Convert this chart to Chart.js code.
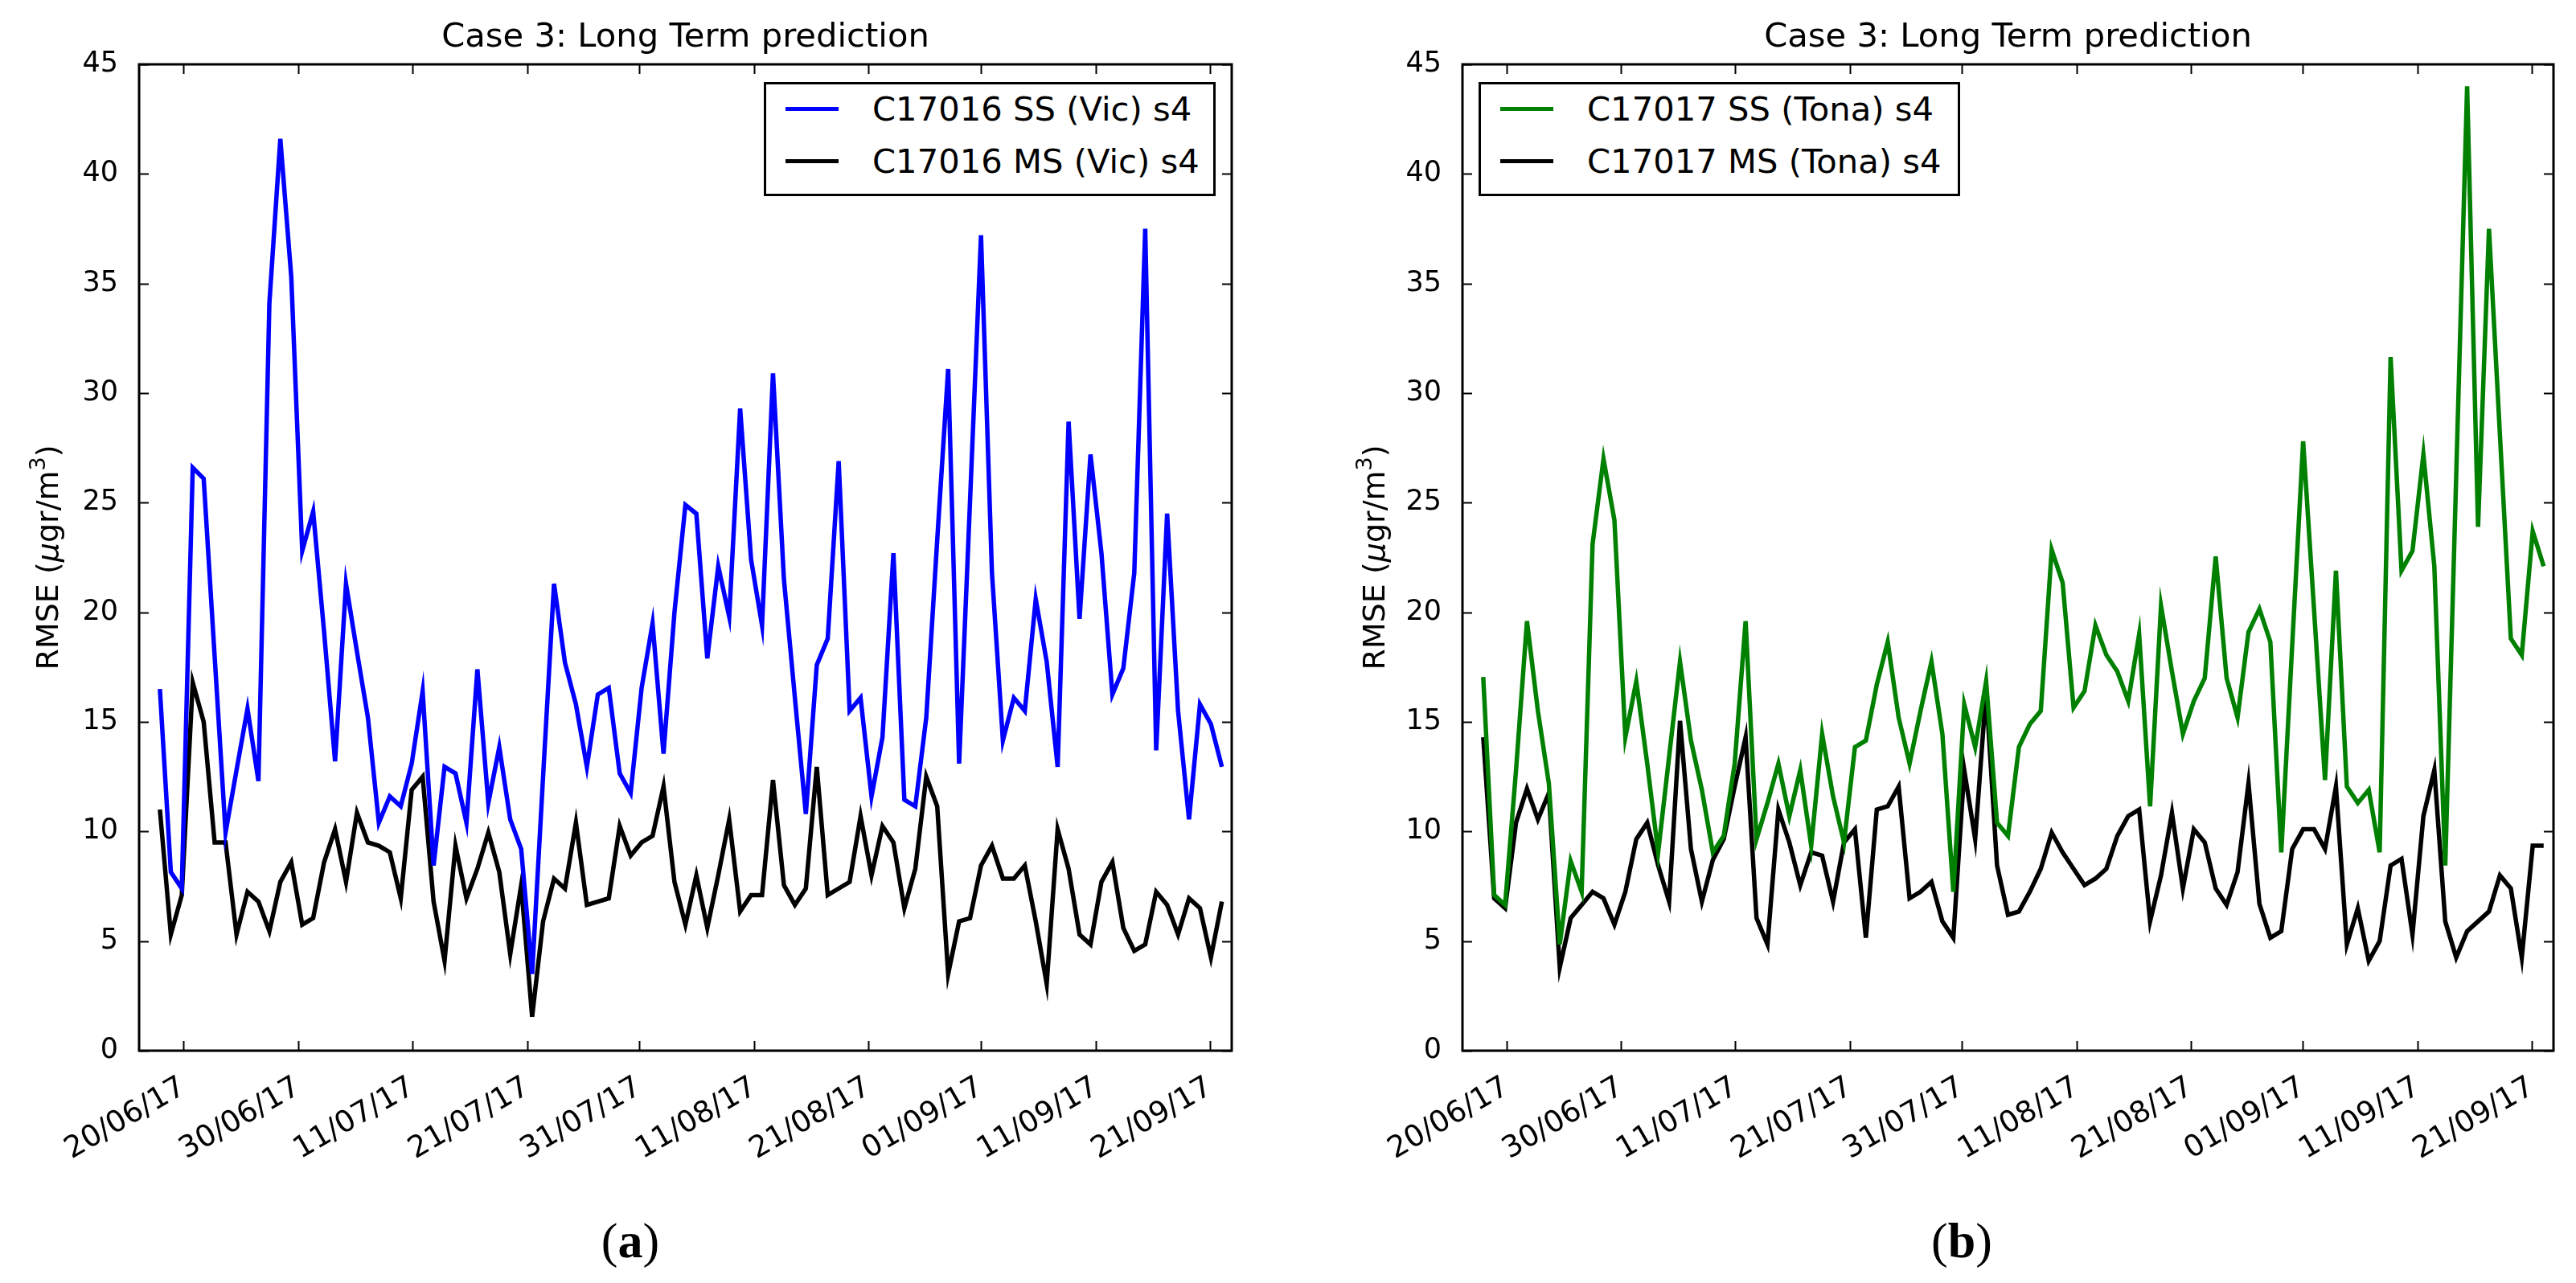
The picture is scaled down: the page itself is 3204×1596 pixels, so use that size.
<!DOCTYPE html>
<html>
<head>
<meta charset="utf-8">
<script src="https://cdn.jsdelivr.net/npm/chart.js@4.4.0/dist/chart.umd.min.js"></script>
<style>
  html, body { margin: 0; padding: 0; background: #fff; }
  #page { position: relative; width: 3204px; height: 1596px; overflow: hidden; font-family: "DejaVu Sans", sans-serif; color: #000; }
  canvas { position: absolute; top: 0; }
  .legend { position: absolute; top: 102px; height: 142px; border: 3px solid #000; background: #fff; box-sizing: border-box; }
  .legend .swatch { position: absolute; left: 24px; width: 66px; height: 5px; }
  .legend .txt { position: absolute; left: 132px; height: 50px; line-height: 50px; font-size: 41.7px; white-space: nowrap; }
  .caption { position: absolute; top: 1508px; height: 70px; line-height: 70px; font-family: "Liberation Serif", serif; font-size: 62px; transform: translateX(-50%); }
</style>
</head>
<body>
<div id="page">
  <canvas id="chartVic" width="1600" height="1596" style="left:0;width:1600px;height:1596px"></canvas>
  <canvas id="chartTona" width="1604" height="1596" style="left:1600px;width:1604px;height:1596px"></canvas>

  <div class="legend" style="left:950px;width:562px">
    <div class="swatch" style="top:28px;background:#0000ff"></div>
    <div class="txt" style="top:6px">C17016 SS (Vic) s4</div>
    <div class="swatch" style="top:93px;background:#000"></div>
    <div class="txt" style="top:71px">C17016 MS (Vic) s4</div>
  </div>
  <div class="legend" style="left:1839px;width:599px">
    <div class="swatch" style="top:28px;background:#008000"></div>
    <div class="txt" style="top:6px">C17017 SS (Tona) s4</div>
    <div class="swatch" style="top:93px;background:#000"></div>
    <div class="txt" style="top:71px">C17017 MS (Tona) s4</div>
  </div>

  <div class="caption" style="left:784px">(<b>a</b>)</div>
  <div class="caption" style="left:2440px">(<b>b</b>)</div>
</div>

<script>
// 数据（从图中读取，每天一个点）
const ssVic = [
  16.5, 8.15, 7.4, 26.6, 26.1, 18.0, 9.95, 12.8, 15.6, 12.3,
  34.1, 41.6, 35.3, 22.8, 24.6, 19.1, 13.2, 21.3, 18.2, 15.2,
  10.4, 11.6, 11.15, 13.1, 16.4, 8.45, 12.95, 12.65, 10.4, 17.4,
  11.3, 13.85, 10.55, 9.2, 3.5, 12.5, 21.3, 17.7, 15.8, 12.95,
  16.25, 16.55, 12.65, 11.75, 16.55, 19.5, 13.55, 20.0, 24.9, 24.5,
  17.9, 22.1, 19.8, 29.3, 22.4, 19.4, 30.9, 21.5, 16.1, 10.8,
  17.6, 18.8, 26.9, 15.5, 16.1, 11.6, 14.3, 22.7, 11.45, 11.15,
  15.2, 23.3, 31.1, 13.1, 25.1, 37.2, 21.8, 14.15, 16.1, 15.5,
  20.6, 17.75, 12.95, 28.7, 19.7, 27.2, 22.7, 16.25, 17.45, 21.8,
  37.5, 13.7, 24.5, 15.5, 10.55, 15.8, 14.9, 12.95
];
const msVic = [
  11.0, 5.3, 7.1, 16.8, 15.0, 9.5, 9.5, 5.3, 7.25, 6.8,
  5.45, 7.7, 8.6, 5.75, 6.05, 8.6, 10.1, 7.7, 10.85, 9.5,
  9.35, 9.05, 6.95, 11.9, 12.5, 6.8, 4.1, 9.35, 6.95, 8.3,
  9.95, 8.15, 4.4, 7.55, 1.55, 5.9, 7.85, 7.4, 10.4, 6.65,
  6.8, 6.95, 10.25, 8.9, 9.5, 9.8, 12.05, 7.7, 5.75, 8.0,
  5.6, 8.0, 10.55, 6.35, 7.1, 7.1, 12.35, 7.55, 6.65, 7.4,
  12.95, 7.1, 7.4, 7.7, 10.7, 8.0, 10.25, 9.5, 6.5, 8.3,
  12.5, 11.15, 3.5, 5.9, 6.05, 8.45, 9.35, 7.85, 7.85, 8.45,
  5.9, 3.05, 10.1, 8.3, 5.3, 4.85, 7.7, 8.6, 5.6, 4.55,
  4.85, 7.25, 6.65, 5.3, 6.95, 6.5, 4.25, 6.8
];
const ssTona = [
  17.05, 7.1, 6.65, 12.8, 19.6, 15.5, 12.2, 4.85, 8.65, 7.25,
  23.1, 27.0, 24.2, 14.3, 16.85, 13.1, 9.05, 13.4, 17.75, 14.15,
  11.9, 9.05, 9.8, 13.1, 19.6, 9.65, 11.3, 13.1, 10.7, 12.8,
  9.35, 14.45, 11.6, 9.5, 13.85, 14.15, 16.7, 18.65, 15.2, 13.1,
  15.5, 17.75, 14.45, 7.25, 15.8, 13.85, 16.85, 10.4, 9.8, 13.85,
  14.9, 15.5, 22.85, 21.35, 15.65, 16.4, 19.4, 18.05, 17.3, 15.95,
  19.0, 11.15, 20.3, 17.3, 14.45, 15.95, 17.0, 22.55, 17.0, 15.2,
  19.1, 20.15, 18.65, 9.05, 18.5, 27.8, 20.1, 12.35, 21.9, 12.05,
  11.3, 11.9, 9.05, 31.65, 21.9, 22.8, 27.2, 22.1, 8.45, 26.2,
  44.0, 23.9, 37.5, 28.1, 18.8, 18.05, 23.7, 22.1
];
const msTona = [
  14.3, 6.95, 6.5, 10.4, 11.95, 10.55, 11.75, 3.8, 6.05, 6.65,
  7.25, 6.95, 5.75, 7.25, 9.65, 10.4, 8.45, 6.8, 15.05, 9.2,
  6.8, 8.7, 9.65, 12.05, 14.3, 6.05, 4.85, 11.0, 9.5, 7.55,
  9.05, 8.9, 6.8, 9.5, 10.1, 5.15, 11.0, 11.15, 12.05, 6.95,
  7.25, 7.7, 5.9, 5.15, 12.8, 9.65, 16.4, 8.45, 6.2, 6.35,
  7.25, 8.3, 9.95, 9.05, 8.3, 7.55, 7.85, 8.3, 9.8, 10.7,
  11.0, 5.9, 8.0, 10.85, 7.4, 10.1, 9.5, 7.4, 6.65, 8.15,
  12.2, 6.7, 5.15, 5.45, 9.2, 10.1, 10.1, 9.2, 12.05, 4.85,
  6.5, 4.1, 5.0, 8.45, 8.75, 5.3, 10.7, 12.8, 5.9, 4.25,
  5.45, 5.9, 6.35, 8.0, 7.4, 4.25, 9.35, 9.35
];

// x 轴刻度（以样本序号为单位）和标签
const tickPos = [2.15, 12.62, 23.06, 33.55, 43.78, 54.3, 64.72, 74.98, 85.5, 95.93];
const tickLabels = ['20/06/17', '30/06/17', '11/07/17', '21/07/17', '31/07/17',
                    '11/08/17', '21/08/17', '01/09/17', '11/09/17', '21/09/17'];
const yTicks = [0, 5, 10, 15, 20, 25, 30, 35, 40, 45];

const FONT = 'DejaVu Sans';
const LABEL_SIZE = 38;

// 画边框和朝内的刻度线（matplotlib classic 风格）
const frameTicks = {
  id: 'frameTicks',
  afterDatasetsDraw(chart) {
    const { ctx, chartArea: a, scales } = chart;
    ctx.save();
    ctx.strokeStyle = '#000';
    ctx.lineWidth = 2;
    ctx.beginPath();
    yTicks.forEach(v => {
      const y = Math.round(scales.y.getPixelForValue(v)) + 0.5;
      ctx.moveTo(a.left, y); ctx.lineTo(a.left + 12, y);
      ctx.moveTo(a.right, y); ctx.lineTo(a.right - 12, y);
    });
    tickPos.forEach(v => {
      const x = Math.round(scales.x.getPixelForValue(v)) + 0.5;
      ctx.moveTo(x, a.bottom); ctx.lineTo(x, a.bottom - 12);
      ctx.moveTo(x, a.top); ctx.lineTo(x, a.top + 12);
    });
    ctx.stroke();
    ctx.lineWidth = 3;
    ctx.strokeRect(a.left, a.top, a.right - a.left, a.bottom - a.top);
    ctx.restore();
  }
};

// y 轴标题：RMSE (μgr/m³)，μ 斜体，3 上标
const yLabel = {
  id: 'yLabel',
  afterDraw(chart, args, opts) {
    const { ctx, chartArea: a } = chart;
    const s = LABEL_SIZE;
    const parts = [
      { t: 'RMSE (', f: `${s}px "${FONT}"`, dy: 0 },
      { t: 'μ', f: `oblique ${s}px "${FONT}"`, dy: 0 },
      { t: 'gr/m', f: `${s}px "${FONT}"`, dy: 0 },
      { t: '3', f: `${Math.round(s * 0.7)}px "${FONT}"`, dy: -s * 0.42 },
      { t: ')', f: `${s}px "${FONT}"`, dy: 0 }
    ];
    ctx.save();
    let total = 0;
    parts.forEach(p => { ctx.font = p.f; p.w = ctx.measureText(p.t).width; total += p.w; });
    ctx.translate(opts.x, (a.top + a.bottom) / 2);
    ctx.rotate(-Math.PI / 2);
    ctx.fillStyle = '#000';
    ctx.textBaseline = 'alphabetic';
    let x = -total / 2;
    const base = s * 0.36;
    parts.forEach(p => {
      ctx.font = p.f;
      ctx.fillText(p.t, x, base + p.dy);
      x += p.w;
    });
    ctx.restore();
  }
};

function toPoints(arr) {
  return arr.map((v, i) => ({ x: i, y: v }));
}

function makeChart(id, ss, ms, ssColor, yAxisWidth, padRight, labelX) {
  return new Chart(document.getElementById(id), {
    type: 'line',
    data: {
      datasets: [
        { data: toPoints(ss), borderColor: ssColor, borderWidth: 5.5, pointRadius: 0, tension: 0, fill: false },
        { data: toPoints(ms), borderColor: '#000000', borderWidth: 5.5, pointRadius: 0, tension: 0, fill: false }
      ]
    },
    options: {
      responsive: false,
      animation: false,
      devicePixelRatio: 1,
      layout: { padding: { left: 0, right: padRight, top: 0, bottom: 0 } },
      plugins: {
        legend: { display: false },
        tooltip: { enabled: false },
        yLabel: { x: labelX },
        title: {
          display: true,
          text: 'Case 3: Long Term prediction',
          fullSize: false,
          color: '#000',
          font: { family: FONT, size: 41.7, weight: 'normal', lineHeight: 1.2 },
          padding: { top: 22, bottom: 8 }
        }
      },
      scales: {
        x: {
          type: 'linear',
          min: -1.9,
          max: 97.9,
          grid: { display: false },
          border: { display: false },
          afterBuildTicks: s => { s.ticks = tickPos.map(v => ({ value: v })); },
          afterFit: s => { s.height = 289; },
          ticks: {
            autoSkip: false,
            minRotation: 30,
            maxRotation: 30,
            padding: 16,
            color: '#000',
            font: { family: FONT, size: 37 },
            callback: (v, i) => tickLabels[i]
          }
        },
        y: {
          min: 0,
          max: 45,
          grid: { display: false },
          border: { display: false },
          afterFit: s => { s.width = yAxisWidth; },
          ticks: {
            stepSize: 5,
            padding: 18,
            color: '#000',
            font: { family: FONT, size: 35 }
          }
        }
      }
    },
    plugins: [frameTicks, yLabel]
  });
}

makeChart('chartVic', ssVic, msVic, '#0000ff', 173, 68, 58);
makeChart('chartTona', ssTona, msTona, '#008000', 219, 28, 108);
</script>
</body>
</html>
